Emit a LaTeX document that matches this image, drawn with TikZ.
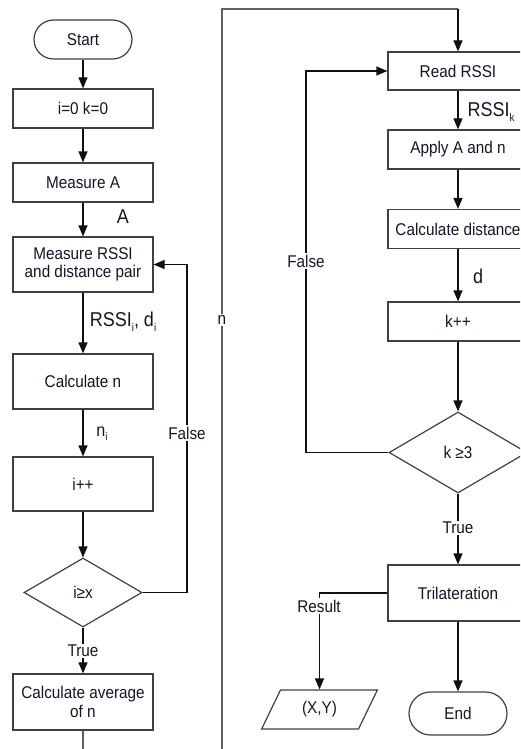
\documentclass[tikz,border=0pt]{standalone}
\usepackage{fontspec}
\setmainfont{Liberation Sans}[FakeStretch=0.9]
\usetikzlibrary{shapes.geometric,arrows.meta}
\newcommand{\lsub}[1]{\raisebox{-0.45ex}{\fontsize{11}{11}\selectfont #1}}
\definecolor{boxc}{HTML}{404040}
\definecolor{linec}{HTML}{101010}
\definecolor{nline}{HTML}{606060}
\definecolor{txtc}{HTML}{15152A}
\begin{document}
\begin{tikzpicture}[x=1pt,y=-1pt,
  font=\fontsize{17}{18.5}\selectfont, text=txtc,
  box/.style={draw=boxc, line width=1.2pt, minimum width=140pt, inner sep=0pt, align=center, fill=white},
  term/.style={draw=boxc, line width=1.2pt, inner sep=0pt, fill=white},
  dia/.style={diamond, draw=boxc, line width=1.2pt, inner sep=0pt, fill=white},
  arr/.style={-{Triangle[length=11pt,width=9pt]}, line width=1.2pt, draw=linec},
  plain/.style={line width=1.2pt, draw=linec},
  lbl/.style={fill=white, inner sep=1.5pt},
  elbl/.style={inner sep=0pt, font=\fontsize{20}{21}\selectfont}]
\useasboundingbox (0,0) rectangle (520,749);
\clip (0,0) rectangle (520,749);
% left column
\node[term, rounded corners=19.5pt, minimum width=98pt, minimum height=39pt] (start) at (83,39.5) {Start};
\node[box, minimum height=39pt] (init) at (83,108.5) {i=0 k=0};
\node[box, minimum height=39pt] (measA) at (83,182.5) {Measure A};
\node[box, minimum height=55pt] (measR) at (83,264.5) {Measure RSSI\\and distance pair};
\node[box, minimum height=55pt] (calcn) at (83,381.5) {Calculate n};
\node[box, minimum height=54pt] (inc) at (83,484) {i++};
\node[dia, minimum width=118pt, minimum height=69pt] (dia1) at (83,592.5) {i≥x};
\node[box, minimum height=56pt] (avg) at (83,702) {Calculate average\\of n};
% right column
\node[box, minimum height=38pt] (read) at (458,71) {Read RSSI};
\node[box, minimum height=39pt] (apply) at (458,149.5) {Apply A and n};
\node[box, minimum height=39pt] (calcd) at (458,229) {Calculate distance};
\node[box, minimum height=39pt] (kinc) at (458,321.5) {k++};
\node[dia, minimum width=138pt, minimum height=81pt] (dia2) at (458,452.5) {k ≥3};
\node[box, minimum height=56pt] (tri) at (458,593) {Trilateration};
\node[trapezium, trapezium left angle=62, trapezium right angle=118, trapezium stretches=true,
      draw=boxc, line width=1.2pt, inner sep=0pt, minimum width=116pt, minimum height=39pt] (xy) at (319.5,709.5) {(X,Y)};
\node[term, rounded corners=21.5pt, minimum width=98pt, minimum height=43pt] (endn) at (458,713.5) {End};
% coordinates for bends
\coordinate (lf) at (187,433);
\coordinate (rf) at (306,261);
\coordinate (res) at (319,606);
\coordinate (ab) at (83,770);
\coordinate (nb) at (222,770);
\coordinate (nt) at (222,9);
\coordinate (rt) at (458,9);
\coordinate (nl) at (222,320);
% left connectors
\draw[arr] (start) -- (init);
\draw[arr] (init) -- (measA);
\draw[arr] (measA) -- (measR);
\node[elbl] (lA) at (123,217) {A};
\draw[arr] (measR) -- (calcn);
\node[elbl] (lR) at (123,322) {RSSI\lsub{i}, d\lsub{i}};
\draw[arr] (calcn) -- (inc);
\node[elbl, font=\fontsize{18}{19}\selectfont] (ln) at (102,434) {n\lsub{i}};
\draw[arr] (inc) -- (dia1);
\draw[arr] (dia1) -- (avg);
\node[lbl] (lT1) at (83,651) {True};
\draw[arr] (dia1.east) -| (lf) |- (measR.east);
\node[lbl] (lF1) at (lf) {False};
% long n line
\draw[plain, draw=nline] (avg.south) -- (ab) -- (nb) -- (nt) -- (rt);
\draw[arr] (rt) -- (read.north);
\node[lbl] (lnn) at (nl) {n};
% right connectors
\draw[arr] (read) -- (apply);
\node[elbl] (lRk) at (491,112) {RSSI\lsub{k}};
\draw[arr] (apply) -- (calcd);
\draw[arr] (calcd) -- (kinc);
\node[elbl] (ld) at (478,276) {d};
\draw[arr] (kinc) -- (dia2);
\draw[arr] (dia2.west) -| (rf) |- (read.west);
\node[lbl] (lF2) at (rf) {False};
\draw[arr] (dia2) -- (tri);
\node[lbl] (lT2) at (458,528) {True};
\draw[arr] (tri.west) -| (xy.north);
\node[lbl] (lres) at (res) {Result};
\draw[arr] (tri) -- (endn);
\end{tikzpicture}
\end{document}
